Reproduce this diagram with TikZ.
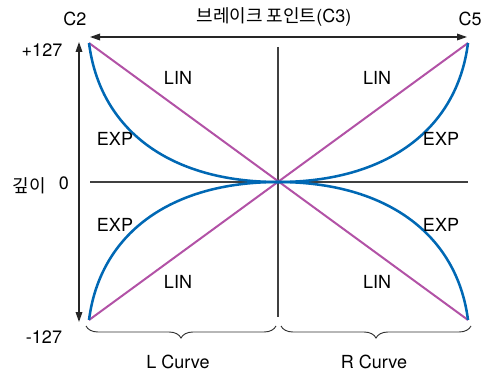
\documentclass[tikz,border=0pt]{standalone}
\usepackage{fontspec}
\setmainfont{TeX Gyre Heros}
\newfontfamily\krfont{Noto Sans CJK KR}
\usetikzlibrary{arrows.meta,decorations.pathreplacing}
\definecolor{expblue}{RGB}{0,104,180}
\definecolor{linmag}{RGB}{178,82,166}

\begin{document}
\begin{tikzpicture}[x=0.75pt,y=-0.75pt,
    lbl/.style={font=\fontsize{13.5}{15}\selectfont, inner sep=0pt},
    expcurve/.style={expblue, line width=1.9pt},
    lincurve/.style={linmag, line width=1.5pt},
    guide/.style={black!75, line width=0.8pt},
    axis/.style={black!85, line width=0.9pt, {Triangle[length=7.5pt,width=5pt]}-{Triangle[length=7.5pt,width=5pt]}},
    curvebrace/.style={black!80, line width=0.7pt, decorate,
      decoration={brace, mirror, amplitude=9pt}}]
  \useasboundingbox (0,0) rectangle (488,374);

  % corners of the curves and the crossing point
  \coordinate (c2) at (89,43);
  \coordinate (c5) at (468,43);
  \coordinate (bl) at (89,320);
  \coordinate (br) at (468,320);
  \coordinate (o) at (278,182);

  % ends of the arrows and guide lines
  \coordinate (ha-l) at (90,37);
  \coordinate (ha-r) at (467,37);
  \coordinate (va-t) at (79,42);
  \coordinate (va-b) at (79,322);
  \coordinate (vg-t) at (278,47);
  \coordinate (vg-b) at (278,317);
  \coordinate (hg-l) at (90,182);
  \coordinate (hg-r) at (468,182);

  % Guide lines
  \draw[guide] (vg-t) -- (vg-b);
  \draw[guide] (hg-l) -- (hg-r);

  % Arrows
  \draw[axis] (ha-l) -- (ha-r);
  \draw[axis] (va-t) -- (va-b);

  % LIN curves
  \draw[lincurve] (c2) -- (br);
  \draw[lincurve] (bl) -- (c5);

  % EXP curves
  \draw[expcurve] (c2) .. controls (100,130) and (170,182) .. (o);
  \draw[expcurve] (o) .. controls (386,182) and (457,130) .. (c5);
  \draw[expcurve] (bl) .. controls (100,234) and (170,182) .. (o);
  \draw[expcurve] (o) .. controls (386,182) and (457,234) .. (br);

  % Braces
  \coordinate (lb-l) at (86,326);
  \coordinate (lb-r) at (276,326);
  \coordinate (rb-l) at (281,326);
  \coordinate (rb-r) at (471,326);
  \draw[curvebrace] (lb-l) -- (lb-r);
  \draw[curvebrace] (rb-l) -- (rb-r);

  % Labels
  \node[lbl] (title) at (274,17) {{\krfont 브레이크 포인트}(C3)};
  \node[lbl] (lc2) at (75,19) {C2};
  \node[lbl] (lc5) at (470,19) {C5};
  \node[lbl] (top) at (42,50) {+127};
  \node[lbl] (zero) at (64,183) {0};
  \node[lbl] (bot) at (44,337) {-127};
  \node[lbl] (depth) at (29,186) {\krfont 깊이};
  \node[lbl] (lcurve) at (178,362) {L Curve};
  \node[lbl] (rcurve) at (374,362) {R Curve};

  \node[lbl] (lin-ul) at (178,78) {LIN};
  \node[lbl] (lin-ur) at (377,78) {LIN};
  \node[lbl] (lin-ll) at (178,282) {LIN};
  \node[lbl] (lin-lr) at (377,282) {LIN};
  \node[lbl] (exp-ul) at (115,139) {EXP};
  \node[lbl] (exp-ur) at (441,139) {EXP};
  \node[lbl] (exp-ll) at (115,225) {EXP};
  \node[lbl] (exp-lr) at (441,225) {EXP};
\end{tikzpicture}
\end{document}
